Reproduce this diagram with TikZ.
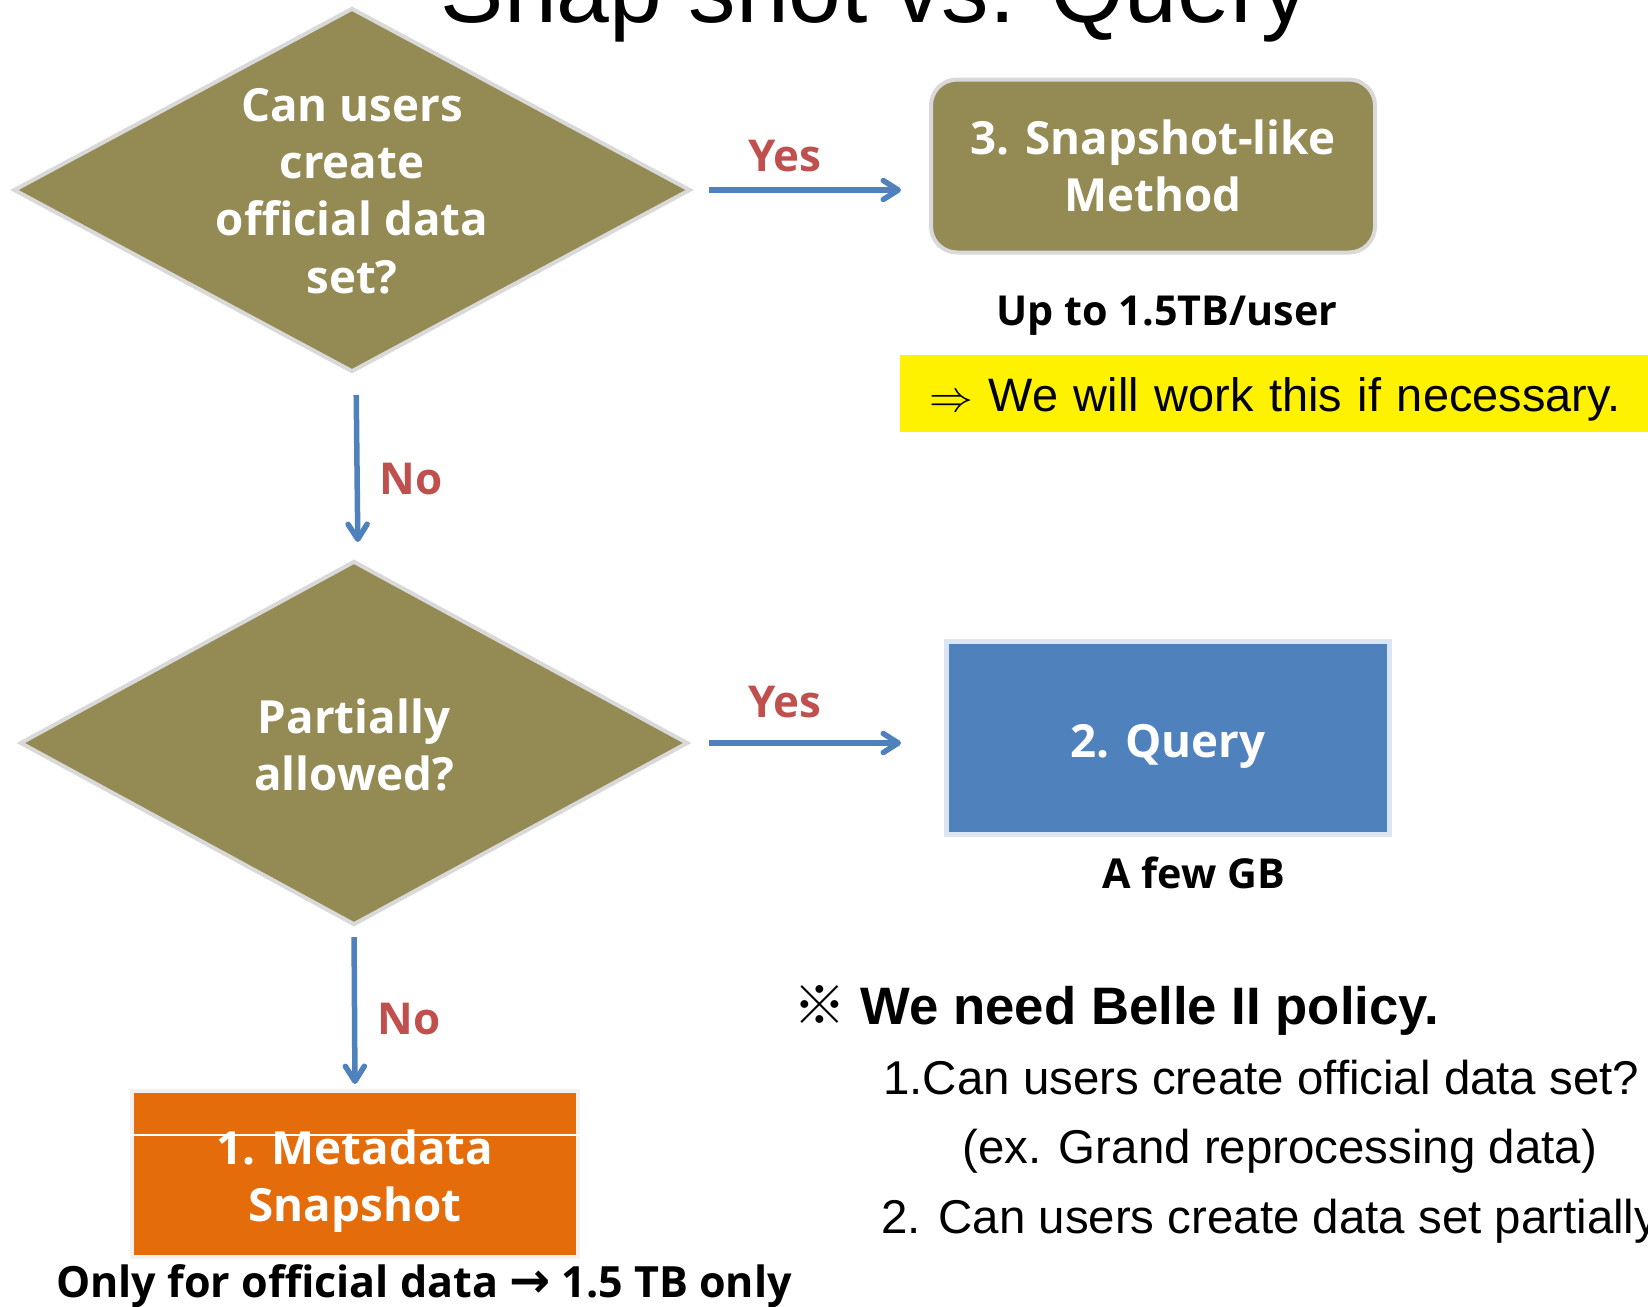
\documentclass[tikz,border=0pt]{standalone}
\usepackage{fontspec}
\setmainfont{Liberation Sans}
\newfontfamily\gothic{Open Sans}
\newfontfamily\symfont{Noto Sans CJK SC}
\newfontfamily\arrowfont{DejaVu Sans}
\usetikzlibrary{shapes.geometric,arrows.meta}

\definecolor{decisionfill}{HTML}{948A54}
\definecolor{queryblue}{HTML}{4F81BD}
\definecolor{snaporange}{HTML}{E46C0A}
\definecolor{labelred}{HTML}{C0504D}
\definecolor{edgegray}{HTML}{D9D9D9}
\definecolor{edgeblue}{HTML}{DCE6F2}
\definecolor{edgelight}{HTML}{F2F2F2}

\newdimen\pxu
\pxu=0.02cm

\tikzset{
  decision/.style={diamond, fill=decisionfill, draw=edgegray, line width=4\pxu, inner sep=0pt},
  choicetext/.style={text=white, align=center, font=\gothic\bfseries\fontsize{26}{32.6}\selectfont},
  method/.style={rectangle, text=white, align=center, line width=4\pxu, font=\gothic\bfseries\fontsize{26}{32.6}\selectfont},
  answer/.style={text=labelred, font=\gothic\bfseries\fontsize{25}{30}\selectfont},
  remark/.style={font=\gothic\bfseries\fontsize{23.5}{28}\selectfont},
  policy/.style={anchor=base west, inner sep=0pt, font=\fontsize{27}{32}\selectfont},
  flow/.style={draw=queryblue, line width=0.11cm, -{Straight Barb[length=0.3cm, width=0.38cm, line width=0.11cm, round]}}
}

\begin{document}
\begin{tikzpicture}[x=0.02cm, y=-0.02cm]
  \useasboundingbox (0,0) rectangle (1648,1306);

  \node (title) at (875,22) [anchor=base, inner sep=0pt, font=\fontsize{54}{60}\selectfont] {Snap shot vs. Query};

  \node[decision, minimum width=677\pxu, minimum height=364\pxu] (q1) at (352,190) {};
  \node[choicetext] (q1text) at (352,191) {Can users\\create\\official data\\set?};
  \node[decision, minimum width=668\pxu, minimum height=364\pxu] (q2) at (354,743) {};
  \node[choicetext] (q2text) at (354,745) {Partially\\allowed?};

  \node[method, fill=decisionfill, draw=edgegray, rounded corners=26\pxu, minimum width=444\pxu, minimum height=173\pxu] (m3) at (1153,166) {3. Snapshot-like\\Method};
  \node[method, fill=queryblue, draw=edgeblue, line width=5\pxu, minimum width=443\pxu, minimum height=193\pxu] (m2) at (1168,738) {};
  \node[choicetext] (m2text) at (1168,746) {2. Query};
  \node[method, fill=snaporange, draw=edgelight, minimum width=446\pxu, minimum height=166\pxu] (m1) at (355,1174) {};
  \draw[white, line width=0.03cm] ([yshift=-0.92cm]m1.north west) -- ([yshift=-0.92cm]m1.north east);
  \node[choicetext] (m1text) at (355,1181) {1. Metadata\\Snapshot};

  \draw[flow, shorten <=0.32cm, shorten >=0.56cm] (q1.east) -- (q1.east -| m3.west);
  \draw[flow, shorten <=0.42cm, shorten >=0.34cm] ([xshift=0.08cm]q1.south) -- ([xshift=0.08cm]q2.north);
  \draw[flow, shorten <=0.38cm, shorten >=0.86cm] (q2.east) -- (q2.east -| m2.west);
  \draw[flow, shorten <=0.2cm, shorten >=0.1cm] (q2.south) -- (m1.north);

  \node[answer] (yes1) at (785,156) {Yes};
  \node[answer] (no1) at (411,479) {No};
  \node[answer] (yes2) at (785,702) {Yes};
  \node[answer] (no2) at (409,1019) {No};

  \node[remark] (m3size) at (1167,316) {Up to 1.5TB/user};
  \node[remark] (m2size) at (1194,873) {A few GB};
  \node[remark, font=\gothic\bfseries\fontsize{24.5}{28}\selectfont] (m1size) at (424,1286) {Only for official data {\arrowfont\bfseries\fontsize{28}{28}\selectfont →} 1.5 TB only};

  \node[fill=yellow, anchor=west, inner xsep=29\pxu, inner ysep=0pt, text width=702\pxu, text height=26.5pt, text depth=5.7pt, align=left, minimum height=77\pxu, font=\fontsize{26.7}{32}\selectfont] (note) at (900,393.5) {$\Rightarrow$ We will work this if necessary.};

  \node[policy, font=\bfseries\fontsize{30}{34}\selectfont] (need) at (793,1024) {{\symfont ※} We need Belle II policy.};
  \node[policy] (ask1) at (883,1094) {1.Can users create official data set?};
  \node[policy] (ask1ex) at (962,1163) {(ex. Grand reprocessing data)};
  \node[policy] (ask2) at (881,1233) {2. Can users create data set partially};
\end{tikzpicture}
\end{document}
